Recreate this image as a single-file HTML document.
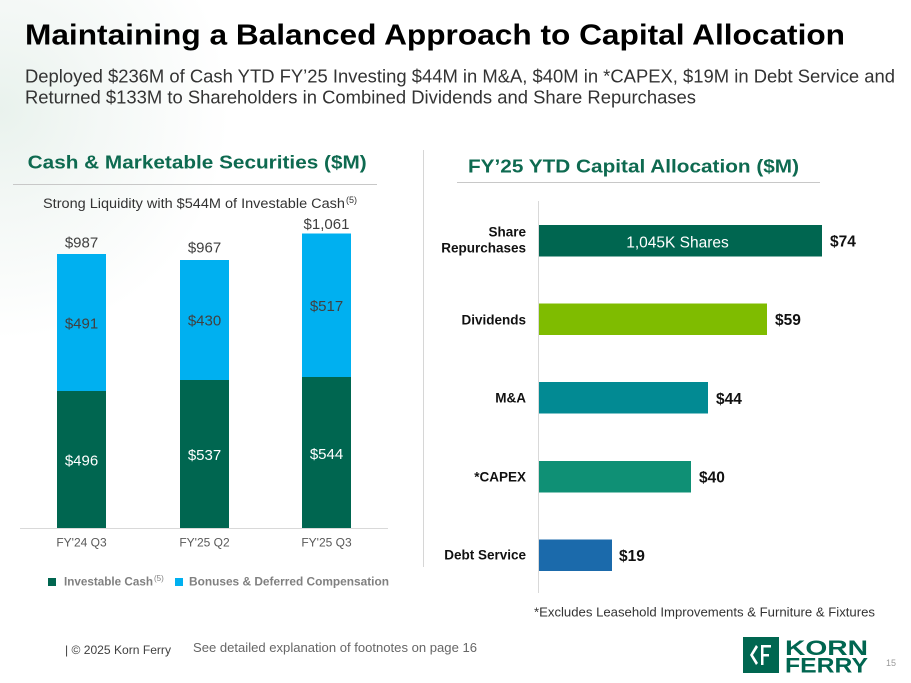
<!DOCTYPE html>
<html>
<head>
<meta charset="utf-8">
<style>
  html,body{margin:0;padding:0;background:#fff;}
  svg{display:block;}
  text{font-family:"Liberation Sans", Arial, sans-serif;}
</style>
</head>
<body>
<svg width="911" height="683" viewBox="0 0 911 683" xmlns="http://www.w3.org/2000/svg">
  <defs>
    <radialGradient id="bg" cx="0" cy="110" r="230" gradientUnits="userSpaceOnUse">
      <stop offset="0" stop-color="#e9f2ed"/>
      <stop offset="0.45" stop-color="#f4f8f6"/>
      <stop offset="1" stop-color="#ffffff"/>
    </radialGradient>
  </defs>
  <rect x="0" y="0" width="911" height="683" fill="#fff"/>
  <rect x="0" y="0" width="911" height="683" fill="url(#bg)"/>

  <!-- Title -->
  <text x="25" y="44.3" font-size="28.5" font-weight="bold" fill="#000" textLength="820" lengthAdjust="spacingAndGlyphs">Maintaining a Balanced Approach to Capital Allocation</text>
  <text x="25" y="82.7" font-size="18.4" fill="#333" textLength="870" lengthAdjust="spacingAndGlyphs">Deployed $236M of Cash YTD FY’25 Investing $44M in M&amp;A, $40M in *CAPEX, $19M in Debt Service and</text>
  <text x="25" y="103.5" font-size="18.4" fill="#333" textLength="671" lengthAdjust="spacingAndGlyphs">Returned $133M to Shareholders in Combined Dividends and Share Repurchases</text>

  <!-- Section headers -->
  <text x="27.7" y="168.7" font-size="18.6" font-weight="bold" fill="#0e6a50" textLength="339" lengthAdjust="spacingAndGlyphs">Cash &amp; Marketable Securities ($M)</text>
  <line x1="13" y1="184.5" x2="377" y2="184.5" stroke="#c8c8c8" stroke-width="1"/>
  <text x="468" y="172.3" font-size="18.6" font-weight="bold" fill="#0e6a50" textLength="331" lengthAdjust="spacingAndGlyphs">FY’25 YTD Capital Allocation ($M)</text>
  <line x1="457" y1="182.5" x2="820" y2="182.5" stroke="#c8c8c8" stroke-width="1"/>

  <!-- Vertical divider -->
  <line x1="423.5" y1="150" x2="423.5" y2="567" stroke="#d6d6d6" stroke-width="1"/>

  <!-- Left chart subtitle -->
  <text x="43" y="208" font-size="13.5" fill="#333" textLength="302" lengthAdjust="spacingAndGlyphs">Strong Liquidity with $544M of Investable Cash</text>
  <text x="346" y="203" font-size="9" fill="#333">(5)</text>

  <!-- Left chart bars -->
  <rect x="57" y="254" width="49" height="137" fill="#00b0f0"/>
  <rect x="57" y="391" width="49" height="137" fill="#006650"/>
  <rect x="180" y="260" width="49" height="120" fill="#00b0f0"/>
  <rect x="180" y="380" width="49" height="148" fill="#006650"/>
  <rect x="302" y="233.5" width="49" height="143.5" fill="#00b0f0"/>
  <rect x="302" y="377" width="49" height="151" fill="#006650"/>
  <line x1="20" y1="528.5" x2="388" y2="528.5" stroke="#d9d9d9" stroke-width="1"/>

  <!-- totals -->
  <g font-size="15" fill="#404040" text-anchor="middle">
    <text x="81.5" y="247.7">$987</text>
    <text x="204.5" y="252.7">$967</text>
    <text x="326.5" y="229">$1,061</text>
    <text x="81.5" y="328.3">$491</text>
    <text x="204.5" y="325.3">$430</text>
    <text x="326.5" y="311">$517</text>
  </g>
  <g font-size="15" fill="#ffffff" text-anchor="middle">
    <text x="81.5" y="465.7">$496</text>
    <text x="204.5" y="460">$537</text>
    <text x="326.5" y="459">$544</text>
  </g>
  <g font-size="12" fill="#595959" text-anchor="middle">
    <text x="81.5" y="546.7">FY'24 Q3</text>
    <text x="204.5" y="546.7">FY'25 Q2</text>
    <text x="326.5" y="546.7">FY'25 Q3</text>
  </g>

  <!-- Legend -->
  <rect x="48" y="578" width="8" height="8" fill="#006650"/>
  <text x="64" y="585.7" font-size="12" font-weight="bold" fill="#808080" textLength="89" lengthAdjust="spacingAndGlyphs">Investable Cash</text>
  <text x="154" y="581" font-size="8" fill="#808080">(5)</text>
  <rect x="175" y="578" width="8" height="8" fill="#00b0f0"/>
  <text x="189" y="585.7" font-size="12" font-weight="bold" fill="#808080" textLength="200" lengthAdjust="spacingAndGlyphs">Bonuses &amp; Deferred Compensation</text>

  <!-- Right chart -->
  <line x1="538.5" y1="201" x2="538.5" y2="593" stroke="#d9d9d9" stroke-width="1"/>
  <rect x="539" y="225" width="283" height="31.5" fill="#006650"/>
  <rect x="539" y="303.5" width="228" height="31.5" fill="#7fbc00"/>
  <rect x="539" y="382" width="169" height="31.5" fill="#028a93"/>
  <rect x="539" y="461" width="152" height="31.5" fill="#0f9075"/>
  <rect x="539" y="539.5" width="73" height="31.5" fill="#1b6aab"/>

  <text x="677.5" y="247.3" font-size="15.5" fill="#fff" text-anchor="middle">1,045K Shares</text>

  <g font-size="13.5" font-weight="bold" fill="#111" text-anchor="end">
    <text x="526" y="236.7">Share</text>
    <text x="526" y="252.3">Repurchases</text>
    <text x="526" y="324.3">Dividends</text>
    <text x="526" y="402.3">M&amp;A</text>
    <text x="526" y="481.7">*CAPEX</text>
    <text x="526" y="559.3">Debt Service</text>
  </g>
  <g font-size="15.5" font-weight="bold" fill="#111">
    <text x="830" y="246.7">$74</text>
    <text x="775" y="325">$59</text>
    <text x="716" y="404">$44</text>
    <text x="699" y="482.7">$40</text>
    <text x="619" y="561">$19</text>
  </g>

  <text x="534" y="616.7" font-size="13" fill="#333" textLength="341" lengthAdjust="spacingAndGlyphs">*Excludes Leasehold Improvements &amp; Furniture &amp; Fixtures</text>

  <!-- Footer -->
  <text x="65" y="654" font-size="12" fill="#404040" textLength="106" lengthAdjust="spacingAndGlyphs">| © 2025 Korn Ferry</text>
  <text x="193" y="652" font-size="13" fill="#666" textLength="284" lengthAdjust="spacingAndGlyphs">See detailed explanation of footnotes on page 16</text>

  <!-- Logo -->
  <rect x="743" y="637" width="36" height="36" fill="#006650"/>
  <polygon points="756,645 750,655 756,665 758,663 753,655 758,647" fill="#fff"/>
  <rect x="761" y="645" width="2.5" height="20" fill="#fff"/>
  <rect x="761" y="645" width="10" height="2.5" fill="#fff"/>
  <rect x="761" y="654" width="8" height="2.5" fill="#fff"/>
  <text x="785" y="655" font-size="21" font-weight="bold" fill="#006650" textLength="83" lengthAdjust="spacingAndGlyphs">KORN</text>
  <text x="785" y="672.5" font-size="21" font-weight="bold" fill="#006650" textLength="83" lengthAdjust="spacingAndGlyphs">FERRY</text>
  <text x="886" y="666" font-size="9" fill="#999">15</text>
</svg>
</body>
</html>
